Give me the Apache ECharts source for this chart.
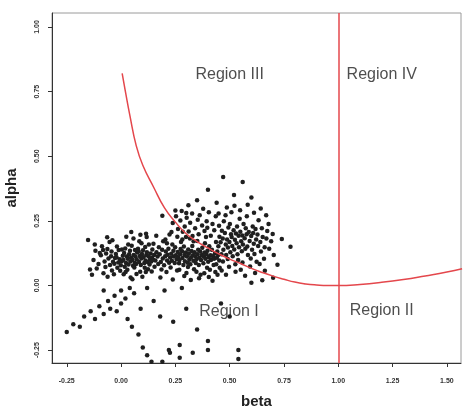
<!DOCTYPE html>
<html lang="en">

<head>
  <script src="https://cdn.jsdelivr.net/npm/echarts@6.0.0/dist/echarts.min.js"></script>
  <meta charset="UTF-8">
</head>

<body style="margin:0;background:#fff;">
  <div id="regionChart" style="width: 463px;height:407px;"></div>

  <script type="text/javascript">

    // tick positions on both axes
    var xTicks = [-0.25, 0, 0.25, 0.5, 0.75, 1, 1.25, 1.5];
    var yTicks = [-0.25, 0, 0.25, 0.5, 0.75, 1];

    // estimated (beta, alpha) pairs
    var points = [
      [-0.152,0.176],[-0.143,0.062],[-0.127,0.098],[-0.118,0.134],[-0.104,0.083],[-0.093,0.117],[-0.088,0.152],[-0.081,0.047],
      [-0.076,0.093],[-0.069,0.124],[-0.072,0.071],[-0.058,0.104],[-0.063,0.141],[-0.051,0.079],[-0.046,0.113],[-0.042,0.058],
      [-0.037,0.092],[-0.044,0.131],[-0.028,0.106],[-0.031,0.084],[-0.024,0.122],[-0.017,0.068],[-0.021,0.109],[-0.013,0.089],
      [-0.006,0.101],[-0.011,0.137],[-0.004,0.057],[0.003,0.094],[0.008,0.115],[-0.001,0.078],[0.014,0.126],[0.011,0.098],
      [0.017,0.072],[0.023,0.087],[0.027,0.112],[0.019,0.143],[0.034,0.081],[0.031,0.103],[0.037,0.121],[0.029,0.061],
      [0.043,0.093],[0.046,0.108],[0.041,0.134],[0.052,0.099],[0.055,0.076],[0.058,0.118],[0.049,0.154],[0.063,0.088],
      [0.066,0.112],[0.061,0.069],[0.072,0.101],[0.074,0.127],[0.078,0.142],[0.069,0.083],[0.083,0.091],[0.086,0.114],
      [0.081,0.131],[0.088,0.053],[0.093,0.104],[0.096,0.122],[0.091,0.079],[0.094,0.163],[0.103,0.109],[0.107,0.087],
      [0.101,0.136],[0.109,0.068],[0.113,0.097],[0.116,0.118],[0.111,0.149],[0.122,0.091],[0.126,0.113],[0.119,0.128],
      [0.124,0.063],[0.133,0.102],[0.136,0.124],[0.131,0.081],[0.142,0.107],[0.144,0.139],[0.139,0.093],[0.152,0.118],
      [0.148,0.099],[0.154,0.072],
      [-0.134,0.041],[-0.121,0.158],[-0.098,0.126],[-0.062,0.034],[-0.053,0.168],[-0.019,0.151],[0.004,0.139],[0.012,0.043],
      [0.033,0.158],[0.044,0.031],[0.064,0.137],[0.057,0.182],[0.021,0.052],[-0.083,0.137],[-0.112,0.066],[0.084,0.171],
      [0.098,0.034],[0.114,0.052],[0.052,0.024],[-0.033,0.043],[0.128,0.158],[0.118,0.187],[0.089,0.196],[0.071,0.044],
      [0.141,0.054],[0.149,0.161],[0.162,0.192],[0.024,0.188],[-0.064,0.186],[0.047,0.207],
      [0.19,0.27],[-0.04,0.175],[0.115,0.20],[0.25,0.29],[0.30,0.28],
      [0.158,0.097],[0.163,0.128],[0.171,0.083],[0.168,0.112],[0.174,0.148],[0.183,0.091],[0.178,0.121],[0.186,0.062],
      [0.192,0.104],[0.189,0.138],[0.194,0.171],[0.203,0.113],[0.198,0.078],[0.206,0.131],[0.212,0.097],[0.214,0.119],
      [0.209,0.052],[0.221,0.088],[0.218,0.142],[0.226,0.108],[0.231,0.123],[0.234,0.096],[0.228,0.069],[0.236,0.158],
      [0.243,0.112],[0.241,0.134],[0.247,0.087],[0.252,0.117],[0.256,0.101],[0.249,0.148],[0.258,0.058],[0.263,0.109],
      [0.261,0.129],[0.267,0.086],[0.272,0.121],[0.274,0.141],[0.269,0.098],[0.276,0.168],[0.283,0.106],[0.281,0.132],
      [0.287,0.079],[0.292,0.118],[0.294,0.094],[0.289,0.151],[0.303,0.112],[0.298,0.127],[0.306,0.088],[0.301,0.048],
      [0.312,0.123],[0.314,0.099],[0.309,0.139],[0.317,0.182],[0.322,0.108],[0.324,0.133],[0.319,0.082],[0.331,0.117],
      [0.333,0.096],[0.328,0.153],[0.342,0.112],[0.338,0.128],[0.344,0.087],[0.336,0.063],[0.352,0.121],[0.348,0.102],
      [0.355,0.138],[0.351,0.172],[0.361,0.107],[0.364,0.131],[0.358,0.079],[0.372,0.118],[0.368,0.098],[0.374,0.146],
      [0.366,0.041],[0.381,0.112],[0.384,0.127],[0.379,0.086],[0.386,0.163],[0.393,0.121],[0.388,0.103],[0.396,0.068],
      [0.403,0.109],[0.398,0.134],[0.406,0.152],[0.401,0.092],[0.412,0.117],[0.414,0.098],[0.409,0.061],[0.423,0.113],
      [0.418,0.138],[0.426,0.079],[0.432,0.124],[0.428,0.103],[0.434,0.052],[0.441,0.107],[0.443,0.131],[0.438,0.082],
      [0.452,0.097],[0.447,0.118],[0.454,0.068],
      [0.181,0.031],[0.204,0.178],[0.223,0.197],[0.238,0.023],[0.259,0.188],[0.284,0.208],[0.291,0.037],[0.321,0.021],
      [0.329,0.191],[0.359,0.028],[0.391,0.187],[0.404,0.033],[0.421,0.018],[0.444,0.041],[0.211,0.163],[0.268,0.061],
      [0.308,0.071],[0.347,0.053],[0.383,0.047],
      [0.238,0.242],[0.253,0.268],[0.262,0.218],[0.273,0.251],[0.279,0.288],[0.293,0.228],[0.302,0.262],[0.311,0.209],
      [0.318,0.243],[0.327,0.278],[0.341,0.221],[0.353,0.254],[0.357,0.198],[0.362,0.272],[0.373,0.232],[0.378,0.297],
      [0.384,0.211],[0.394,0.248],[0.397,0.223],[0.404,0.283],[0.413,0.192],[0.421,0.238],[0.429,0.214],[0.436,0.268],
      [0.299,0.187],[0.334,0.171],[0.232,0.207],[0.282,0.178],
      [0.448,0.152],[0.453,0.188],[0.451,0.231],[0.462,0.121],[0.458,0.167],[0.464,0.212],[0.471,0.138],[0.468,0.182],
      [0.473,0.248],[0.469,0.093],[0.482,0.158],[0.478,0.203],[0.484,0.118],[0.481,0.272],[0.492,0.147],[0.488,0.178],
      [0.494,0.224],[0.491,0.102],[0.503,0.128],[0.499,0.168],[0.506,0.198],[0.501,0.238],[0.512,0.153],[0.509,0.187],
      [0.514,0.113],[0.508,0.283],[0.521,0.139],[0.524,0.177],[0.518,0.214],[0.526,0.082],[0.532,0.163],[0.529,0.201],
      [0.534,0.228],[0.536,0.121],[0.543,0.148],[0.541,0.192],[0.546,0.258],[0.539,0.098],[0.553,0.171],[0.549,0.208],
      [0.556,0.132],[0.561,0.158],[0.558,0.193],[0.564,0.238],[0.559,0.089],[0.572,0.142],[0.569,0.183],[0.574,0.221],
      [0.581,0.151],[0.578,0.198],[0.584,0.118],[0.579,0.268],[0.592,0.172],[0.588,0.207],[0.594,0.073],[0.603,0.138],
      [0.599,0.191],[0.606,0.228],[0.611,0.161],[0.614,0.122],[0.608,0.203],[0.622,0.178],[0.619,0.218],[0.624,0.092],
      [0.631,0.153],[0.628,0.197],[0.633,0.252],[0.641,0.168],[0.644,0.131],[0.652,0.187],[0.648,0.221],[0.661,0.148],
      [0.658,0.103],[0.669,0.182],[0.673,0.211],[0.682,0.142],[0.679,0.238],[0.691,0.171],[0.698,0.199],[0.703,0.118],
      [0.437,0.168],[0.463,0.058],[0.483,0.041],[0.497,0.072],[0.527,0.053],[0.551,0.061],[0.571,0.038],[0.597,0.104],
      [0.617,0.048],[0.638,0.083],[0.662,0.057],[0.449,0.278],[0.487,0.302],[0.522,0.308],[0.548,0.291],[0.583,0.312],
      [0.612,0.281],[0.643,0.298],[0.668,0.272],
      [0.47,0.42],[0.56,0.40],[0.40,0.37],[0.52,0.35],[0.60,0.34],[0.35,0.33],[0.44,0.32],[0.31,0.31],
      [0.78,0.15],[0.72,0.08],[0.74,0.18],[0.70,0.03],[0.65,0.02],[0.60,0.01],
      [-0.25,-0.18],[-0.22,-0.15],[-0.19,-0.16],[-0.17,-0.12],[-0.14,-0.10],[-0.12,-0.13],[-0.10,-0.08],
      [-0.08,-0.11],[-0.06,-0.06],[-0.05,-0.09],[-0.03,-0.04],[-0.02,-0.10],[0.00,-0.02],[0.00,-0.07],
      [0.02,-0.05],[0.03,-0.13],[0.05,-0.16],[0.06,-0.03],[0.08,-0.19],[0.10,-0.24],[0.12,-0.27],
      [0.14,-0.295],[0.19,-0.295],[0.22,-0.25],[0.225,-0.26],[0.27,-0.23],[0.27,-0.28],[0.33,-0.26],
      [0.40,-0.215],[0.40,-0.25],[0.54,-0.25],[0.54,-0.285],[0.15,-0.06],[0.24,-0.14],[0.30,-0.09],
      [0.35,-0.17],[0.46,-0.07],[0.12,-0.01],[0.20,-0.02],[0.09,-0.09],[-0.08,-0.02],[0.04,-0.01],
      [0.28,-0.01],[0.50,-0.12],[0.18,-0.12]
    ];

    // red boundary curve
    var curve = [
      [0.005,0.82],[0.02,0.75],[0.04,0.66],[0.07,0.54],[0.10,0.465],[0.15,0.38],[0.20,0.30],[0.25,0.245],
      [0.30,0.20],[0.35,0.17],[0.40,0.145],[0.45,0.122],[0.50,0.102],[0.55,0.085],[0.60,0.066],
      [0.65,0.05],[0.70,0.036],[0.75,0.024],[0.80,0.013],[0.85,0.006],[0.90,0.002],[0.95,0.0],[1.00,0.0],
      [1.10,0.004],[1.20,0.012],[1.30,0.023],[1.40,0.037],[1.50,0.052],[1.57,0.065]
    ];

    var regionNames = ['Region III', 'Region IV', 'Region I', 'Region II'];
    var regionPos = [[0.50, 0.814], [1.20, 0.814], [0.497, -0.103], [1.20, -0.099]];

    var xRange = [-0.318, 1.565];
    var yRange = [-0.300, 1.054];

    var red = '#e4474c';

    function createRegionChart() {
      const chart = echarts.init(document.getElementById('regionChart'));

      const tickLabel = {
        fontSize: 7,
        fontWeight: 'bold',
        color: '#333',
        fontFamily: 'Liberation Sans, Arial, sans-serif',
        formatter: v => Number(v).toFixed(2)
      };

      let option = {
        animation: false,
        backgroundColor: '#fff',
        grid: {
          left: 52, top: 13, right: 2, bottom: 44,
          outerBoundsMode: 'none',
          containLabel: false,
          show: true,
          borderColor: '#9a9a9a',
          borderWidth: 1
        },
        xAxis: {
          type: 'value',
          min: xRange[0],
          max: xRange[1],
          name: 'beta',
          nameLocation: 'middle',
          nameGap: 31,
          nameTextStyle: { fontSize: 15, fontWeight: 'bold', color: '#222', fontFamily: 'Liberation Sans, Arial, sans-serif' },
          splitLine: { show: false },
          axisLine: { show: true, onZero: false, lineStyle: { color: '#333', width: 1 } },
          axisTick: { show: true, length: 4, customValues: xTicks, lineStyle: { color: '#333' } },
          axisLabel: Object.assign({ customValues: xTicks, margin: 15 }, tickLabel)
        },
        yAxis: {
          type: 'value',
          min: yRange[0],
          max: yRange[1],
          name: 'alpha',
          nameLocation: 'middle',
          nameGap: 33,
          nameTextStyle: { fontSize: 15, fontWeight: 'bold', color: '#222', fontFamily: 'Liberation Sans, Arial, sans-serif' },
          splitLine: { show: false },
          axisLine: { show: true, onZero: false, lineStyle: { color: '#333', width: 1 } },
          axisTick: { show: true, length: 4, customValues: yTicks, lineStyle: { color: '#333' } },
          axisLabel: Object.assign({ customValues: yTicks, margin: 11, rotate: 90 }, tickLabel)
        },
        series: [
          {
            name: 'points',
            type: 'scatter',
            data: points,
            symbolSize: 4.5,
            itemStyle: { color: '#1f1f1f', opacity: 1 },
            z: 2
          },
          {
            name: 'boundary',
            type: 'line',
            data: curve,
            smooth: true,
            showSymbol: false,
            lineStyle: { color: red, width: 1.5 },
            z: 3,
            markLine: {
              silent: true,
              symbol: 'none',
              label: { show: false },
              lineStyle: { color: red, width: 1.5, type: 'solid' },
              data: [{ xAxis: 1 }]
            }
          },
          {
            name: 'regions',
            type: 'scatter',
            symbolSize: 0,
            data: regionNames.map((n, i) => ({ name: n, value: regionPos[i] })),
            label: {
              show: true,
              position: 'inside',
              formatter: '{b}',
              fontSize: 16,
              color: '#222',
              fontFamily: 'Liberation Sans, Arial, sans-serif'
            },
            z: 4
          }
        ]
      };

      chart.setOption(option);
    }
    createRegionChart();
  </script>
</body>

</html>
